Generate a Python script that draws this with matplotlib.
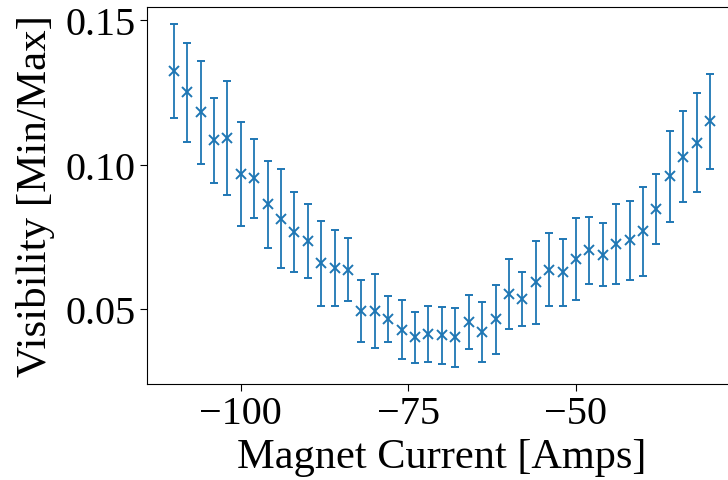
import numpy as np
import matplotlib
matplotlib.use("Agg")
import matplotlib.pyplot as plt

plt.rcParams['font.family'] = ['Liberation Serif', 'DejaVu Serif']
plt.rcParams['font.size'] = 29

# magnet current set points [A]
current = np.arange(-110, -29, 2)

# visibility (min/max) and its uncertainty
visibility = [0.1324, 0.1251, 0.1182, 0.1084, 0.1092, 0.0968, 0.0953, 0.0863,
              0.0813, 0.0767, 0.0736, 0.0659, 0.0642, 0.0637, 0.0494, 0.0494,
              0.0465, 0.0428, 0.0402, 0.0413, 0.0410, 0.0402, 0.0456, 0.0421,
              0.0465, 0.0552, 0.0535, 0.0593, 0.0637, 0.0628, 0.0672, 0.0703,
              0.0689, 0.0726, 0.0738, 0.0769, 0.0846, 0.0960, 0.1028, 0.1077,
              0.1150]
vis_err = [0.0163, 0.0171, 0.0178, 0.0147, 0.0198, 0.0180, 0.0136, 0.0151,
           0.0171, 0.0138, 0.0128, 0.0147, 0.0132, 0.0109, 0.0107, 0.0128,
           0.0080, 0.0102, 0.0087, 0.0097, 0.0099, 0.0102, 0.0093, 0.0103,
           0.0120, 0.0122, 0.0095, 0.0143, 0.0125, 0.0116, 0.0142, 0.0115,
           0.0108, 0.0139, 0.0138, 0.0155, 0.0122, 0.0158, 0.0158, 0.0171,
           0.0165]

xticks = [-100, -75, -50]
yticks = [0.05, 0.10, 0.15]

fig = plt.figure(figsize=(7.28, 4.81), dpi=100)
# the reference is cropped on the right, so the axes run past the figure edge
ax = fig.add_axes([0.202, 0.1996, 0.810, 0.7838])

ax.errorbar(current, visibility, yerr=vis_err, fmt='x', color='#1f77b4',
            markersize=7, markeredgewidth=1.4, elinewidth=1.3, capsize=3,
            capthick=1.3)

ax.set_xticks(xticks)
ax.set_yticks(yticks)
ax.set_yticklabels(['0.05', '0.10', '0.15'])
ax.tick_params(length=5, width=0.8, pad=3)
ax.set_xlabel('Magnet Current [Amps]', fontsize=30.5, labelpad=4)
ax.set_ylabel('Visibility [Min/Max]', fontsize=31, labelpad=8)

fig.savefig('out.png', dpi=100)
